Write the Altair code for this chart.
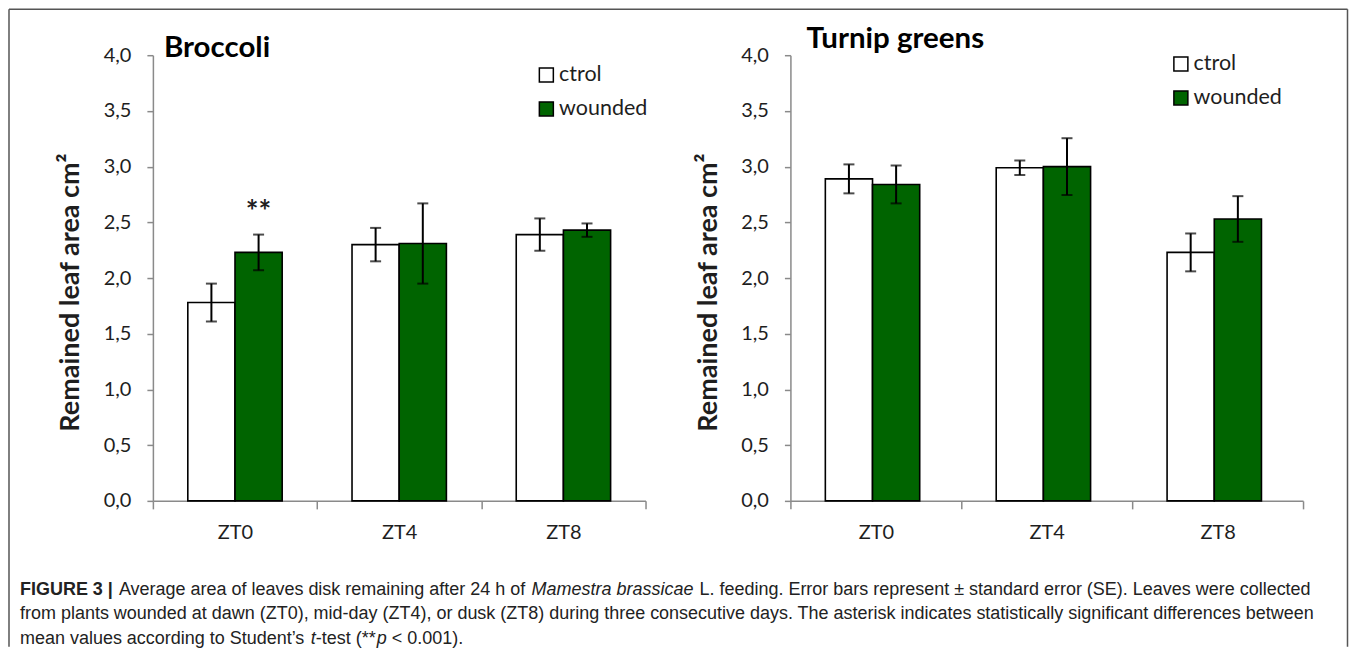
import altair as alt
import pandas as pd

# ---------------- data ----------------
times = ["ZT0", "ZT4", "ZT8"]
groups = ["ctrol", "wounded"]
crops = ["Broccoli", "Turnip greens"]

broc_ctrol = [1.78, 2.30, 2.39]
broc_ctrol_se = [0.17, 0.15, 0.145]
broc_wound = [2.23, 2.31, 2.43]
broc_wound_se = [0.16, 0.36, 0.06]

turn_ctrol = [2.89, 2.99, 2.23]
turn_ctrol_se = [0.13, 0.065, 0.17]
turn_wound = [2.84, 3.00, 2.53]
turn_wound_se = [0.17, 0.255, 0.205]

sig_crop = ["Broccoli"]
sig_time = ["ZT0"]
sig_group = ["wounded"]
sig_text = ["**"]
sig_level = [2.50]

y_ticks = [0.0, 0.5, 1.0, 1.5, 2.0, 2.5, 3.0, 3.5, 4.0]

rows = []
for crop, c_m, c_s, w_m, w_s in [
    ("Broccoli", broc_ctrol, broc_ctrol_se, broc_wound, broc_wound_se),
    ("Turnip greens", turn_ctrol, turn_ctrol_se, turn_wound, turn_wound_se),
]:
    for i, t in enumerate(times):
        rows.append(dict(crop=crop, time=t, group="ctrol", mean=c_m[i],
                         lo=c_m[i] - c_s[i], hi=c_m[i] + c_s[i]))
        rows.append(dict(crop=crop, time=t, group="wounded", mean=w_m[i],
                         lo=w_m[i] - w_s[i], hi=w_m[i] + w_s[i]))
df = pd.DataFrame(rows)
sig_df = pd.DataFrame(dict(crop=sig_crop, time=sig_time, group=sig_group,
                           text=sig_text, level=sig_level))

FONT = "Lato"
AXIS_GRAY = "#8a8a8a"
TXT = "#1e1e1e"
GREEN = "#006400"
PLOT_H = 446
Y_TITLE = "Remained leaf area cm²"


def panel(name, width, title_x, title_y, leg_x, leg_y, extra=()):
    d = df[df.crop == name]
    s = sig_df[sig_df.crop == name]
    xs = alt.Scale(domain=times, paddingInner=0, paddingOuter=0)
    xenc = alt.X("time:N", scale=xs, axis=alt.Axis(
        title=None, tickBand="extent", labelAngle=0, labelFont=FONT,
        labelFontSize=20, labelColor=TXT, labelBaseline="alphabetic",
        labelPadding=30, tickSize=8, tickColor=AXIS_GRAY, tickWidth=1.5,
        domainColor=AXIS_GRAY, domainWidth=1.5))
    xo = alt.XOffset("group:N", scale=alt.Scale(domain=groups, paddingInner=0, paddingOuter=0.74))
    ys = alt.Scale(domain=[0, 4], nice=False)
    yaxis = alt.Axis(
        values=y_ticks, labelExpr="replace(format(datum.value, '.1f'), '.', ',')",
        title=Y_TITLE, titleFont=FONT, titleFontSize=27,
        titleFontWeight="bold", titleColor=TXT, titleAngle=270,
        titleX=-74, titleY=237, titleAlign="center", titleBaseline="alphabetic",
        labelFont=FONT, labelFontSize=20, labelColor=TXT, labelPadding=16,
        tickSize=6, tickColor=AXIS_GRAY, tickWidth=1.5, domainColor=AXIS_GRAY,
        domainWidth=1.5, grid=False)
    color = alt.Color("group:N", scale=alt.Scale(domain=groups, range=["white", GREEN]),
                      legend=alt.Legend(
                          title=None, orient="none", legendX=leg_x, legendY=leg_y,
                          symbolType="square", symbolSize=196, symbolStrokeColor="black",
                          symbolStrokeWidth=1.5, labelFont=FONT, labelFontSize=21.5,
                          labelColor=TXT, rowPadding=11, labelOffset=2, padding=0))
    base = alt.Chart(d)
    bars = base.mark_bar(stroke="black", strokeWidth=1.6).encode(
        x=xenc, xOffset=xo, y=alt.Y("mean:Q", scale=ys, axis=yaxis, title=Y_TITLE), fill=color)
    err = base.mark_rule(color="black", strokeWidth=2).encode(
        x=xenc, xOffset=xo, y=alt.Y("lo:Q", scale=ys, axis=yaxis, title=Y_TITLE), y2="hi:Q")
    cap_lo = base.mark_tick(color="black", size=11, thickness=2).encode(
        x=xenc, xOffset=xo, y=alt.Y("lo:Q", scale=ys, axis=yaxis, title=Y_TITLE))
    cap_hi = base.mark_tick(color="black", size=11, thickness=2).encode(
        x=xenc, xOffset=xo, y=alt.Y("hi:Q", scale=ys, axis=yaxis, title=Y_TITLE))
    layers = [bars, err, cap_lo, cap_hi]
    if len(s):
        layers.append(alt.Chart(s).mark_text(
            font=FONT, fontSize=30, fontWeight="bold", color=TXT,
            baseline="alphabetic").encode(
            x=xenc, xOffset=xo, y=alt.Y("level:Q", scale=ys, axis=yaxis, title=Y_TITLE),
            text="text:N"))
    layers.append(alt.Chart(pd.DataFrame({"t": [name]})).mark_text(
        font=FONT, fontSize=29.5, fontWeight="bold", color="black", align="left",
        baseline="alphabetic").encode(text="t:N", x=alt.value(title_x), y=alt.value(title_y)))
    layers.extend(extra)
    return alt.layer(*layers).properties(width=width, height=PLOT_H)


# ---------------- caption + frame (relative to left plot origin: page x 152, y 54) ----------------
OX, OY = 152, 54
CAP = 18
segments = [
    ("FIGURE 3 |", "bold", "normal", 19, 594),
    ("Average area of leaves disk remaining after 24 h of", "normal", "normal", 118, 594),
    ("Mamestra brassicae", "normal", "italic", 531, 594),
    ("L. feeding. Error bars represent ± standard error (SE). Leaves were collected",
     "normal", "normal", 699, 594),
    ("from plants wounded at dawn (ZT0), mid-day (ZT4), or dusk (ZT8) during three consecutive "
     "days. The asterisk indicates statistically significant differences between",
     "normal", "normal", 19, 618),
    ("mean values according to Student’s", "normal", "normal", 19, 643),
    ("t", "normal", "italic", 310, 643),
    ("-test (**", "normal", "normal", 315, 643),
    ("p", "normal", "italic", 376, 643),
    ("< 0.001).", "normal", "normal", 391, 643),
]
one = pd.DataFrame({"a": [0]})
extra = []
for txt, wt, st, px, py in segments:
    extra.append(alt.Chart(one).mark_text(
        text=txt, font="Liberation Sans", fontSize=CAP, fontWeight=wt, fontStyle=st,
        color="#222222", align="left", baseline="alphabetic").encode(
        x=alt.value(px - OX), y=alt.value(py - OY)))

FRAME = "#555555"
L, T, R, B = 8, 8, 1347.5, 646
extra.append(alt.Chart(one).mark_rule(color=FRAME, strokeWidth=1.5).encode(
    x=alt.value(L - OX), y=alt.value(T - OY), y2=alt.value(B - OY)))
extra.append(alt.Chart(one).mark_rule(color=FRAME, strokeWidth=1.5).encode(
    x=alt.value(R - OX), y=alt.value(T - OY), y2=alt.value(B - OY)))
extra.append(alt.Chart(one).mark_rule(color=FRAME, strokeWidth=1.5).encode(
    x=alt.value(L - OX), x2=alt.value(R - OX), y=alt.value(T - OY)))

left = panel("Broccoli", 493, 11, 2, 383, 9, extra)
right = panel("Turnip greens", 513, 16, -7, 380, -2)

chart = alt.hconcat(left, right, spacing=145, bounds="flush").resolve_scale(
    fill="independent", x="independent", y="independent").resolve_legend(
    fill="independent").properties(padding=0, background="white").configure_view(stroke=None)

chart.save("out.html", embed_options={"renderer": "svg", "actions": False})
